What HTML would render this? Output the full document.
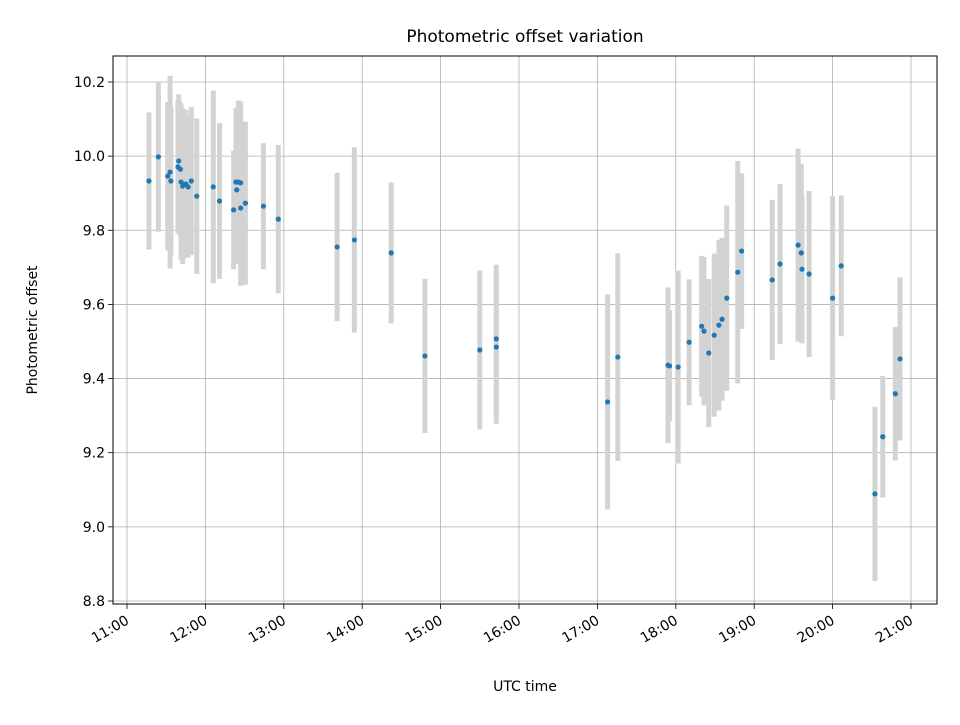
<!DOCTYPE html>
<html><head><meta charset="utf-8"><style>body{margin:0;background:#fff}svg text{font-family:"DejaVu Sans","Liberation Sans",sans-serif}</style></head>
<body>
<svg id="chart" width="960" height="720" xmlns="http://www.w3.org/2000/svg"></svg>
<script>
const times=[11.28,11.40,11.52,11.55,11.56,11.65,11.66,11.68,11.69,11.71,11.75,11.78,11.82,11.89,12.10,12.18,12.36,12.39,12.40,12.42,12.45,12.45,12.51,12.74,12.93,13.68,13.90,14.37,14.80,15.50,15.71,15.71,17.13,17.26,17.90,17.92,18.03,18.17,18.33,18.36,18.42,18.49,18.55,18.59,18.65,18.79,18.84,19.23,19.33,19.56,19.60,19.61,19.70,20.00,20.11,20.54,20.64,20.80,20.86];
const offsets=[9.933,9.998,9.946,9.957,9.933,9.971,9.987,9.965,9.930,9.919,9.925,9.917,9.933,9.892,9.917,9.879,9.855,9.930,9.909,9.930,9.860,9.928,9.873,9.865,9.830,9.755,9.774,9.739,9.461,9.477,9.485,9.507,9.337,9.458,9.436,9.434,9.431,9.498,9.541,9.528,9.469,9.517,9.544,9.560,9.617,9.687,9.744,9.666,9.709,9.760,9.739,9.695,9.682,9.617,9.704,9.089,9.243,9.359,9.453];
const errors=[0.185,0.202,0.20,0.26,0.20,0.18,0.18,0.18,0.21,0.21,0.20,0.19,0.20,0.21,0.26,0.21,0.16,0.20,0.20,0.22,0.21,0.22,0.22,0.17,0.20,0.20,0.25,0.19,0.208,0.214,0.207,0.20,0.29,0.28,0.21,0.15,0.26,0.17,0.19,0.20,0.20,0.22,0.23,0.22,0.25,0.30,0.21,0.216,0.216,0.26,0.24,0.20,0.224,0.275,0.19,0.235,0.164,0.18,0.22];
const xTicks=[11,12,13,14,15,16,17,18,19,20,21];
const xTickLabels=["11:00","12:00","13:00","14:00","15:00","16:00","17:00","18:00","19:00","20:00","21:00"];
const yTicks=[8.8,9.0,9.2,9.4,9.6,9.8,10.0,10.2];
const yTickLabels=["8.8","9.0","9.2","9.4","9.6","9.8","10.0","10.2"];

const L=113,R=937,T=56,B=604;
const xs=t=>127+(t-11)*78.4;
const ys=v=>82+(10.2-v)*370.7;
const svg=document.getElementById('chart');
const NS='http://www.w3.org/2000/svg';
function mk(tag,attrs,parent){const e=document.createElementNS(NS,tag);for(const k in attrs)e.setAttribute(k,attrs[k]);(parent||svg).appendChild(e);return e;}

const grid=mk('g',{});


xTicks.forEach((t,i)=>{
  const x=xs(t);
  const gl=mk('line',{x1:x,x2:x,y1:T,y2:B,stroke:'#b0b0b0','stroke-width':0.8},grid);
  
  
  const tk=mk('line',{x1:x,x2:x,y1:B,y2:B+5,stroke:'#000','stroke-width':0.8});
  
  
  const ax=x+3, ay=B+19;
  const tx=mk('text',{x:ax,y:ay,'font-size':14,'text-anchor':'end',transform:`rotate(-30 ${ax} ${ay})`});
  tx.textContent=xTickLabels[i];
  
  
});
yTicks.forEach((v,i)=>{
  const y=ys(v);
  const gl=mk('line',{x1:L,x2:R,y1:y,y2:y,stroke:'#b0b0b0','stroke-width':0.8},grid);
  
  
  const tk=mk('line',{x1:L-5,x2:L,y1:y,y2:y,stroke:'#000','stroke-width':0.8});
  
  
  const tx=mk('text',{x:L-8,y:y+5,'font-size':14,'text-anchor':'end'});
  tx.textContent=yTickLabels[i];
  
  
});

const bars=mk('g',{});


times.forEach((t,i)=>{
  const b=mk('line',{x1:xs(t),x2:xs(t),y1:ys(offsets[i]+errors[i]),y2:ys(offsets[i]-errors[i]),stroke:'#d3d3d3','stroke-width':5},bars);
  
  
});
const pts=mk('g',{});


times.forEach((t,i)=>{
  const c=mk('circle',{cx:xs(t),cy:ys(offsets[i]),r:2.6,fill:'#1f77b4'},pts);
  
  
});

const frame=mk('rect',{x:L,y:T,width:R-L,height:B-T,fill:'none',stroke:'#000','stroke-width':1});


const title=mk('text',{x:(L+R)/2,y:42,'font-size':17,'text-anchor':'middle'});
title.textContent='Photometric offset variation';


const xl=mk('text',{x:(L+R)/2,y:691,'font-size':14,'text-anchor':'middle'});
xl.textContent='UTC time';


const yl=mk('text',{x:37,y:(T+B)/2,'font-size':14,'text-anchor':'middle',transform:`rotate(-90 37 ${(T+B)/2})`});
yl.textContent='Photometric offset';


</script>
</body></html>
